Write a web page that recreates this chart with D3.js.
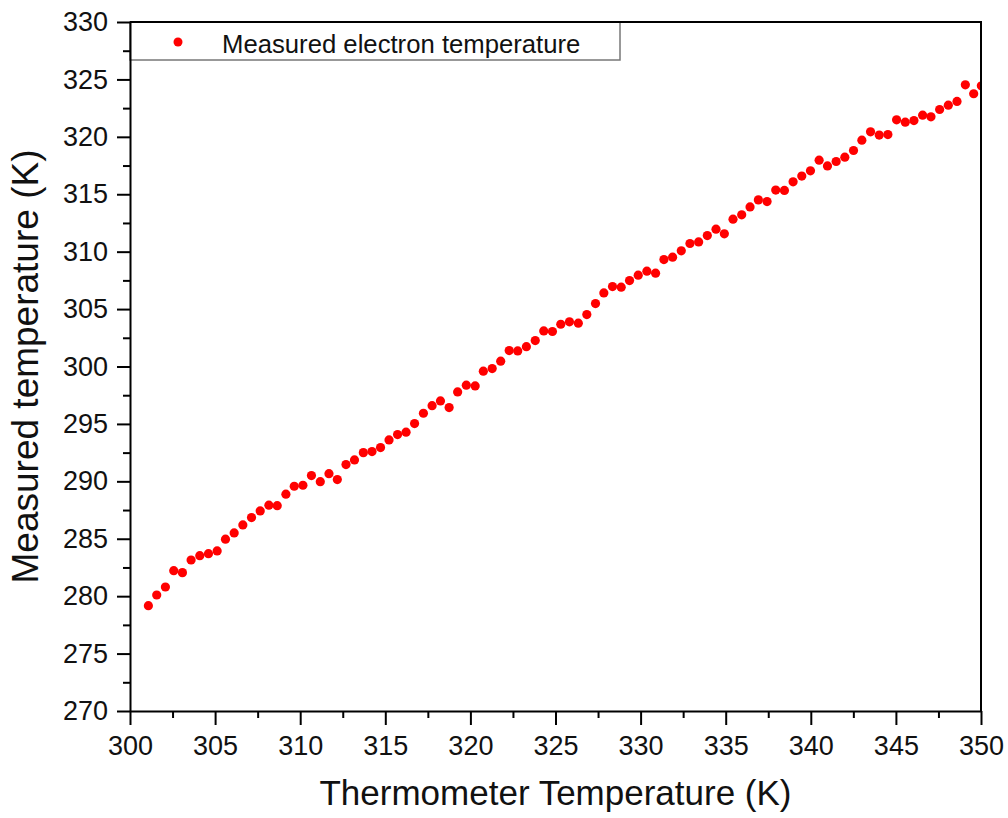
<!DOCTYPE html>
<html>
<head>
<meta charset="utf-8">
<script src="https://cdn.jsdelivr.net/npm/d3@7"></script>
<style>
  body { margin: 0; background: #fff; }
  svg { display: block; font-family: 'Liberation Sans', Arial, sans-serif; }
</style>
</head>
<body>
<svg width="1008" height="818"></svg>
<script>
// thermometer reading (K)
const thermoTemp = [
  301.08, 301.57, 302.08, 302.57, 303.08, 303.59, 304.10, 304.61, 305.12, 305.61,
  306.12, 306.63, 307.14, 307.65, 308.16, 308.65, 309.16, 309.65, 310.16, 310.66,
  311.18, 311.69, 312.18, 312.69, 313.19, 313.71, 314.22, 314.72, 315.22, 315.72,
  316.22, 316.72, 317.24, 317.75, 318.24, 318.75, 319.25, 319.76, 320.28, 320.76,
  321.28, 321.78, 322.28, 322.78, 323.29, 323.81, 324.31, 324.82, 325.31, 325.82,
  326.34, 326.84, 327.35, 327.84, 328.35, 328.86, 329.35, 329.86, 330.37, 330.88,
  331.37, 331.88, 332.39, 332.90, 333.41, 333.92, 334.43, 334.92, 335.43, 335.94,
  336.43, 336.92, 337.43, 337.94, 338.45, 338.96, 339.47, 339.98, 340.49, 340.98,
  341.49, 342.00, 342.51, 343.00, 343.51, 344.02, 344.53, 345.04, 345.55, 346.06,
  346.57, 347.06, 347.57, 348.08, 348.59, 349.08, 349.57, 350.02,
];

// measured electron temperature (K)
const electronTemp = [
  279.17, 280.10, 280.80, 282.22, 282.05, 283.15, 283.53, 283.70, 283.94, 284.96,
  285.51, 286.20, 286.84, 287.42, 287.92, 287.88, 288.88, 289.57, 289.66, 290.50,
  289.97, 290.67, 290.15, 291.46, 291.86, 292.50, 292.59, 292.94, 293.61, 294.07,
  294.28, 295.03, 295.93, 296.59, 297.00, 296.42, 297.79, 298.37, 298.31, 299.59,
  299.82, 300.46, 301.39, 301.36, 301.73, 302.26, 303.10, 303.05, 303.68, 303.89,
  303.77, 304.52, 305.48, 306.41, 306.96, 306.91, 307.48, 307.95, 308.30, 308.13,
  309.31, 309.52, 310.07, 310.71, 310.85, 311.40, 311.96, 311.55, 312.83, 313.21,
  313.90, 314.51, 314.36, 315.36, 315.33, 316.08, 316.58, 317.04, 317.97, 317.47,
  317.85, 318.23, 318.81, 319.71, 320.44, 320.15, 320.20, 321.48, 321.28, 321.42,
  321.89, 321.74, 322.38, 322.76, 323.08, 324.53, 323.75, 324.44,
];

const xTicks = [300, 305, 310, 315, 320, 325, 330, 335, 340, 345, 350];
const yTicks = [270, 275, 280, 285, 290, 295, 300, 305, 310, 315, 320, 325, 330];
const legendLabel = 'Measured electron temperature';

const margin = { top: 22, right: 27, bottom: 107, left: 130 };
const width = 1008 - margin.left - margin.right;
const height = 818 - margin.top - margin.bottom;

const svg = d3.select('svg');
const g = svg.append('g').attr('transform', `translate(${margin.left},${margin.top})`);

const x = d3.scaleLinear().domain([300, 350]).range([0, width]);
const y = d3.scaleLinear().domain([270, 330]).range([height, 0]);

// minor ticks sit halfway between the labelled ones
const mid = (arr) => arr.slice(1).map((v, i) => (v + arr[i]) / 2);

g.append('defs').append('clipPath').attr('id', 'plotClip')
  .append('rect')
  .attr('width', width)
  .attr('height', height);

// legend box goes under the frame line
const legend = g.append('g');
legend.append('rect')
  .attr('x', 0)
  .attr('y', 0)
  .attr('width', 490)
  .attr('height', 38)
  .attr('fill', '#fff')
  .attr('stroke', '#777')
  .attr('stroke-width', 1.5);
legend.append('circle')
  .attr('cx', 48)
  .attr('cy', 20)
  .attr('r', 4.5)
  .attr('fill', '#ff0000');
legend.append('text')
  .attr('x', 92)
  .attr('y', 30.5)
  .style('font-size', '25.7px')
  .attr('fill', '#111')
  .text(legendLabel);

// data
g.append('g')
  .attr('clip-path', 'url(#plotClip)')
  .selectAll('circle')
  .data(thermoTemp.map((t, i) => [t, electronTemp[i]]))
  .join('circle')
  .attr('cx', (d) => x(d[0]))
  .attr('cy', (d) => y(d[1]))
  .attr('r', 4.6)
  .attr('fill', '#ff0000');

// frame top + right
g.append('path')
  .attr('d', `M0,0H${width}V${height}`)
  .attr('fill', 'none')
  .attr('stroke', '#000')
  .attr('stroke-width', 2);

// minor ticks
g.append('g')
  .attr('transform', `translate(0,${height})`)
  .call(d3.axisBottom(x).tickValues(mid(xTicks)).tickSize(7).tickFormat(''))
  .call((a) => a.select('.domain').remove());
g.append('g')
  .call(d3.axisLeft(y).tickValues(mid(yTicks)).tickSize(7).tickFormat(''))
  .call((a) => a.select('.domain').remove());

const xAxis = g.append('g')
  .attr('transform', `translate(0,${height})`)
  .call(d3.axisBottom(x).tickValues(xTicks).tickSize(14).tickPadding(11).tickSizeOuter(0));
const yAxis = g.append('g')
  .call(d3.axisLeft(y).tickValues(yTicks).tickSize(13).tickPadding(9).tickSizeOuter(0));

[xAxis, yAxis].forEach((a) => {
  a.attr('font-family', null).attr('font-size', null);
  a.selectAll('text').style('font-size', '27px').attr('fill', '#111');
});
g.selectAll('.tick line, .domain').attr('stroke', '#000').attr('stroke-width', 2);

// axis titles
svg.append('text')
  .attr('x', margin.left + width / 2)
  .attr('y', 805)
  .attr('text-anchor', 'middle')
  .style('font-size', '35px')
  .attr('fill', '#111')
  .text('Thermometer Temperature (K)');

svg.append('text')
  .attr('transform', `translate(38,${margin.top + height / 2}) rotate(-90)`)
  .attr('text-anchor', 'middle')
  .style('font-size', '37px')
  .attr('fill', '#111')
  .text('Measured temperature (K)');
</script>
</body>
</html>
